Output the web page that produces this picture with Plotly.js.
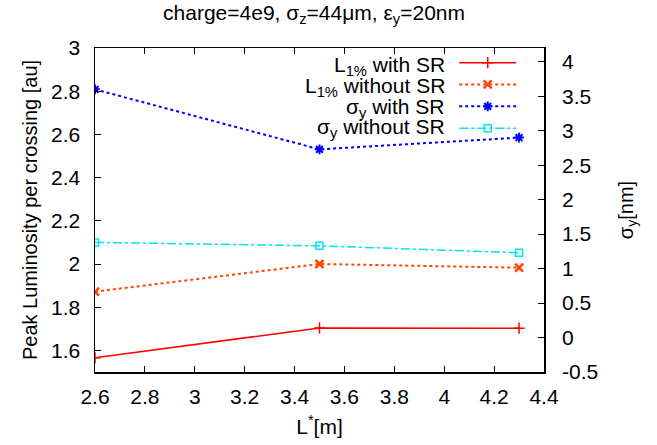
<!DOCTYPE html>
<html>
<head>
<meta charset="utf-8">
<script src="https://cdn.plot.ly/plotly-3.0.1.min.js"></script>
<style>html,body{margin:0;padding:0;background:#fff;}#chart{width:657px;height:445px;}</style>
</head>
<body>
<div id="chart"></div>
<script>
// Data
const lStar = [2.6, 3.5, 4.3];
const lumiWithSR = [1.566, 1.704, 1.703];
const lumiWithoutSR = [1.872, 2.0, 1.983];
const sigmaWithSR = [3.6, 2.73, 2.9];
const sigmaWithoutSR = [1.38, 1.33, 1.23];
const seriesNames = ["L<sub>1%</sub> with SR", "L<sub>1%</sub> without SR", "σ<sub>y</sub> with SR", "σ<sub>y</sub> without SR"];
const xTicks = [2.6, 2.8, 3.0, 3.2, 3.4, 3.6, 3.8, 4.0, 4.2, 4.4];
const xTickText = ["2.6", "2.8", "3", "3.2", "3.4", "3.6", "3.8", "4", "4.2", "4.4"];
const yTicks = [1.6, 1.8, 2.0, 2.2, 2.4, 2.6, 2.8, 3.0];
const yTickText = ["1.6", "1.8", "2", "2.2", "2.4", "2.6", "2.8", "3"];
const y2Ticks = [-0.5, 0, 0.5, 1, 1.5, 2, 2.5, 3, 3.5, 4];
const y2TickText = ["-0.5", "0", "0.5", "1", "1.5", "2", "2.5", "3", "3.5", "4"];

const FONT = "Liberation Sans, Arial, Helvetica, sans-serif";
const FS = 21;

const traces = [
  {x: lStar, y: lumiWithSR, name: " ", mode: "lines+markers", yaxis: "y",
   line: {color: "#ff0000", width: 1.5},
   marker: {symbol: "cross-thin-open", size: 8, line: {color: "#ff0000", width: 1.5}}},
  {x: lStar, y: lumiWithoutSR, name: " ", mode: "lines+markers", yaxis: "y",
   line: {color: "#ff4500", width: 2, dash: "dot"},
   marker: {symbol: "x-thin-open", size: 8, line: {color: "#ff4500", width: 2.5}}},
  {x: lStar, y: sigmaWithSR, name: " ", mode: "lines+markers", yaxis: "y2",
   line: {color: "#0000ff", width: 2, dash: "dot"},
   marker: {symbol: "asterisk-open", size: 8, line: {color: "#0000ff", width: 2}}},
  {x: lStar, y: sigmaWithoutSR, name: " ", mode: "lines+markers", yaxis: "y2",
   line: {color: "#00e5ee", width: 1.5, dash: "dashdot"},
   marker: {symbol: "square-open", size: 7, line: {color: "#00e5ee", width: 1.5}}}
];

const rowY = [0.944, 0.88, 0.816, 0.752];
const annotations = seriesNames.map((t, i) => ({
  xref: "paper", yref: "paper", x: 0.783, y: rowY[i], xanchor: "right", yanchor: "middle",
  text: t, showarrow: false, font: {family: FONT, size: FS, color: "#000"}
}));

const layout = {
  width: 657, height: 445,
  margin: {l: 95, r: 113, t: 48, b: 73},
  paper_bgcolor: "#fff", plot_bgcolor: "#fff",
  font: {family: FONT, color: "#000"},
  title: {text: "charge=4e9, σ<sub>z</sub>=44μm, ε<sub>y</sub>=20nm", font: {family: FONT, size: 21, color: "#000"},
          xref: "container", x: 0.478, xanchor: "center", y: 0.972, yanchor: "middle"},
  showlegend: true,
  legend: {x: 0.8, y: 1.004, xanchor: "left", yanchor: "top", bgcolor: "rgba(0,0,0,0)",
           font: {family: FONT, size: 14.5}, itemwidth: 57, tracegroupgap: 0},
  xaxis: {range: [2.6, 4.4], tickvals: xTicks, ticktext: xTickText, ticks: "inside", ticklen: 6,
          tickcolor: "#000", showline: true, linecolor: "#000", linewidth: 1.5, mirror: "ticks",
          showgrid: false, zeroline: false, tickfont: {family: FONT, size: FS, color: "#000"},
          ticklabelstandoff: 5,
          title: {text: "L<sup>*</sup>[m]", font: {family: FONT, size: FS, color: "#000"}, standoff: 12}},
  yaxis: {range: [1.5, 3], tickvals: yTicks, ticktext: yTickText, ticks: "inside", ticklen: 6,
          tickcolor: "#000", showline: true, linecolor: "#000", linewidth: 1.5, mirror: true,
          showgrid: false, zeroline: false, tickfont: {family: FONT, size: FS, color: "#000"},
          ticklabelstandoff: 9,
          title: {text: "Peak Luminosity per crossing [au]", font: {family: FONT, size: 20, color: "#000"}, standoff: 8}},
  yaxis2: {range: [-0.5, 4.2], tickvals: y2Ticks, ticktext: y2TickText, overlaying: "y", side: "right",
           ticks: "inside", ticklen: 6, tickcolor: "#000", showline: false,
           showgrid: false, zeroline: false, tickfont: {family: FONT, size: FS, color: "#000"},
           ticklabelstandoff: 17,
           title: {text: "σ<sub>y</sub>[nm]", font: {family: FONT, size: 20, color: "#000"}, standoff: 21}},
  annotations: annotations
};

Plotly.newPlot("chart", traces, layout, {displayModeBar: false, staticPlot: true});
</script>
</body>
</html>
